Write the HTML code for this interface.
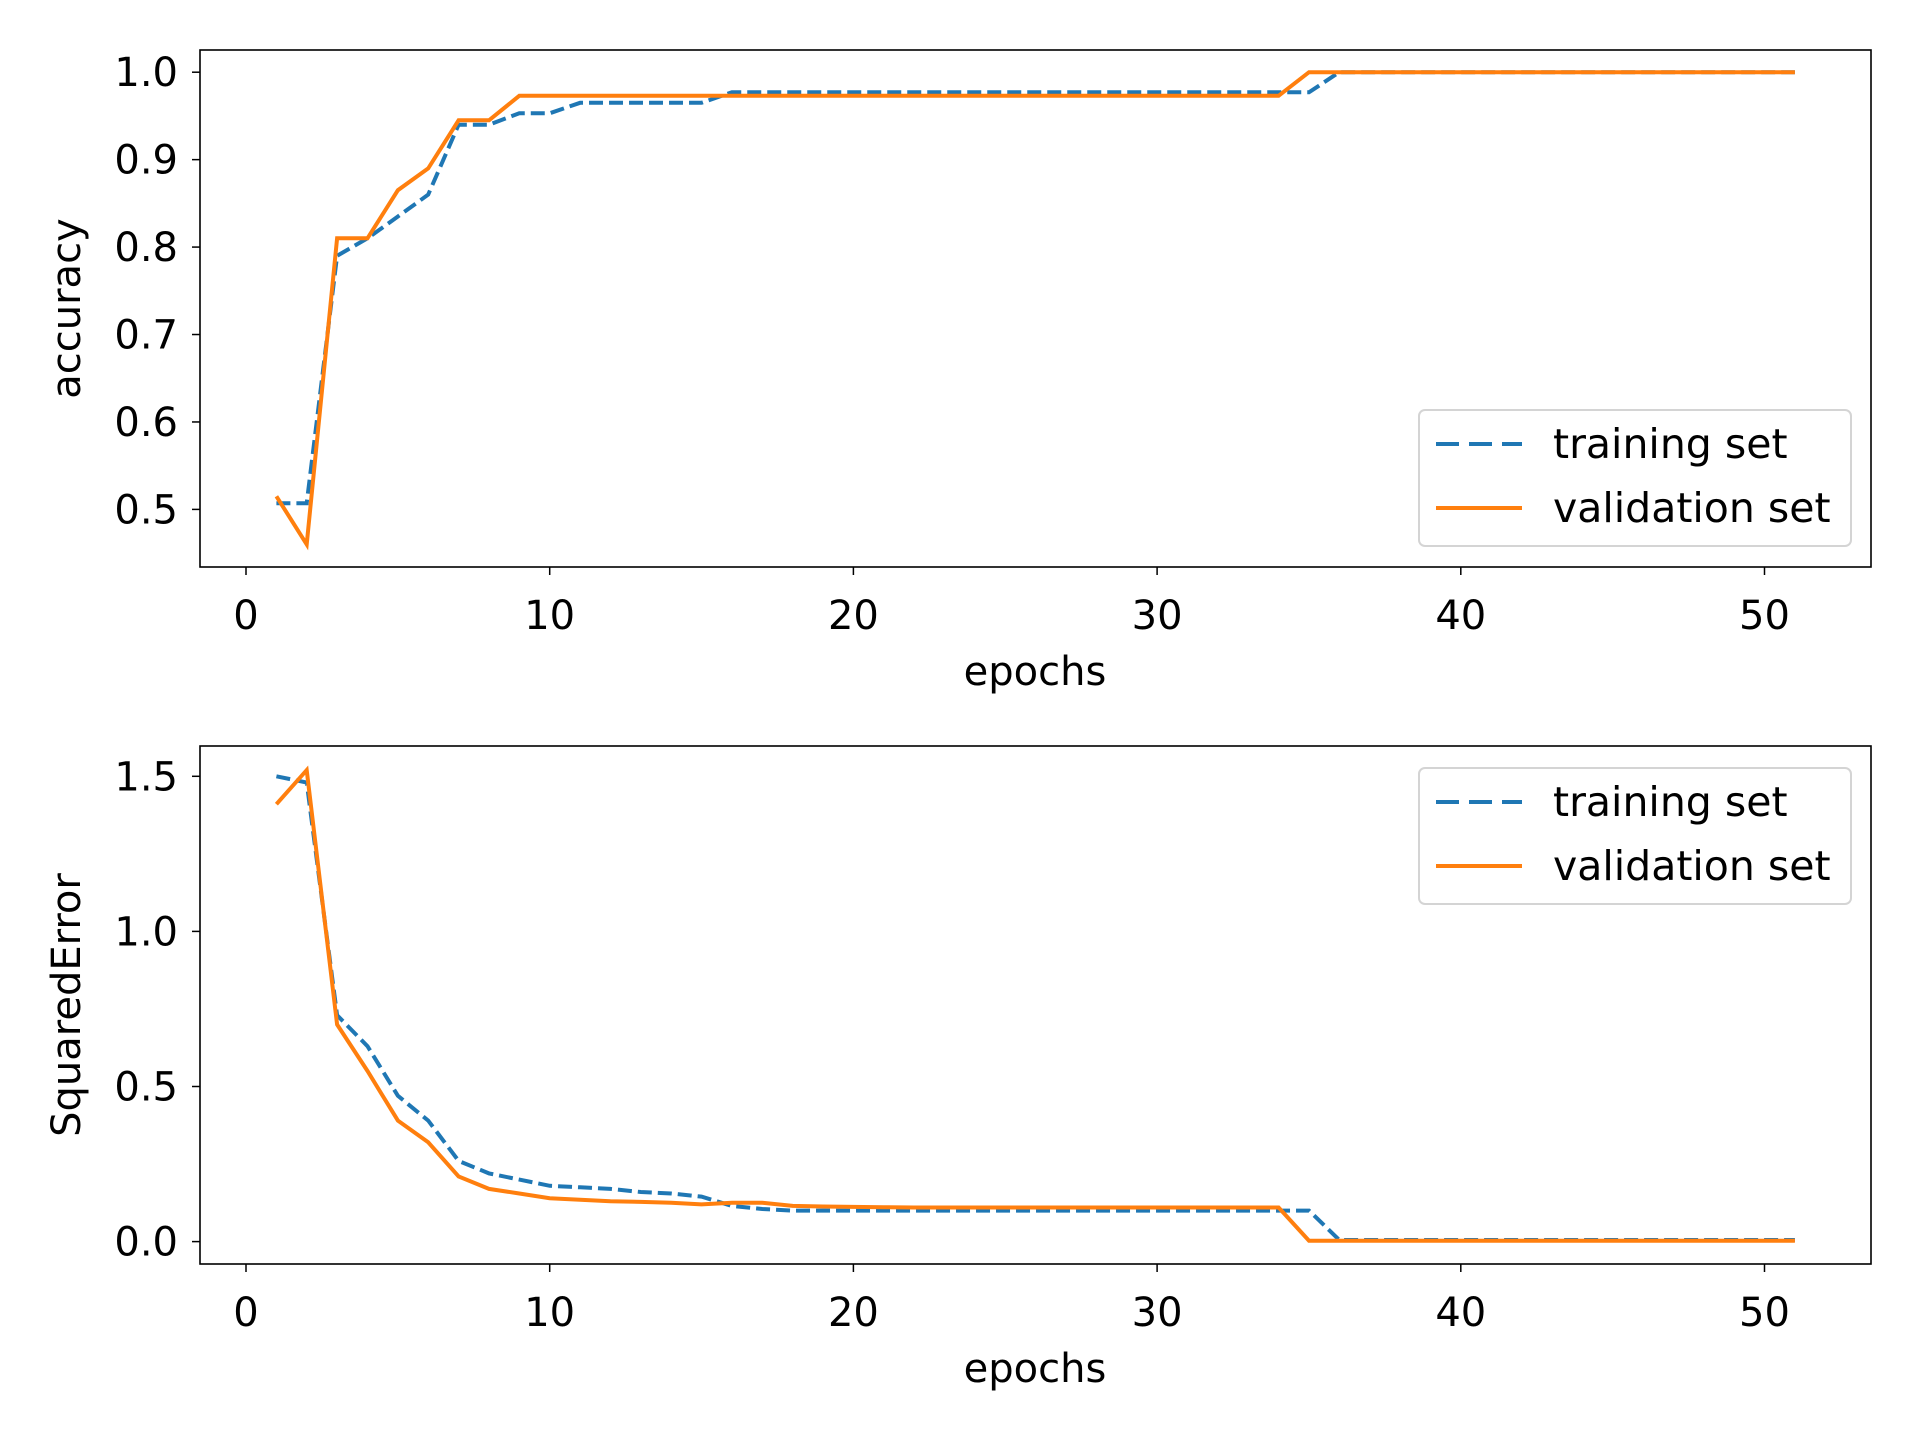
<!DOCTYPE html>
<html><head><meta charset="utf-8"><style>
body{margin:0;background:#fff}
svg text{font-family:"DejaVu Sans","Liberation Sans",sans-serif;fill:#000}
</style></head><body>
<svg id="c" width="1920" height="1440" viewBox="0 0 1920 1440" xmlns="http://www.w3.org/2000/svg"></svg>
<script>
const epochs=[];for(let i=1;i<=51;i++)epochs.push(i);
const accTrain=[0.507,0.507,0.79,0.81,0.835,0.86,0.94,0.94,0.953,0.953,0.965,0.965,0.965,0.965,0.965,0.977,0.977,0.977,0.977,0.977,0.977,0.977,0.977,0.977,0.977,0.977,0.977,0.977,0.977,0.977,0.977,0.977,0.977,0.977,0.977,1,1,1,1,1,1,1,1,1,1,1,1,1,1,1,1];
const accVal=[0.515,0.46,0.81,0.81,0.865,0.89,0.945,0.945,0.973,0.973,0.973,0.973,0.973,0.973,0.973,0.973,0.973,0.973,0.973,0.973,0.973,0.973,0.973,0.973,0.973,0.973,0.973,0.973,0.973,0.973,0.973,0.973,0.973,0.973,1,1,1,1,1,1,1,1,1,1,1,1,1,1,1,1,1];
const errTrain=[1.5,1.48,0.73,0.63,0.47,0.39,0.26,0.22,0.2,0.18,0.175,0.17,0.16,0.155,0.145,0.115,0.105,0.1,0.1,0.1,0.1,0.1,0.1,0.1,0.1,0.1,0.1,0.1,0.1,0.1,0.1,0.1,0.1,0.1,0.1,0.005,0.005,0.005,0.005,0.005,0.005,0.005,0.005,0.005,0.005,0.005,0.005,0.005,0.005,0.005,0.005];
const errVal=[1.41,1.52,0.70,0.55,0.39,0.32,0.21,0.17,0.155,0.14,0.135,0.13,0.128,0.125,0.12,0.125,0.125,0.115,0.113,0.112,0.111,0.11,0.11,0.11,0.11,0.11,0.11,0.11,0.11,0.11,0.11,0.11,0.11,0.11,0.003,0.003,0.003,0.003,0.003,0.003,0.003,0.003,0.003,0.003,0.003,0.003,0.003,0.003,0.003,0.003,0.003];
const xTicks=[0,10,20,30,40,50];
const accTicks=[0.5,0.6,0.7,0.8,0.9,1.0];
const errTicks=[0.0,0.5,1.0,1.5];
const svg=document.getElementById('c');const NS='http://www.w3.org/2000/svg';
function el(t,a,p){const e=document.createElementNS(NS,t);for(const k in a)e.setAttribute(k,a[k]);(p||svg).appendChild(e);return e;}
const X=v=>246+(v)*(1764.5-246)/50;
function panel(pre,top,bot,ya,yb,va,vb,ticks,ylab,tr,vl,legY){
  const Y=v=>ya+(v-va)*(yb-ya)/(vb-va);
  const g=el('g',{});
  xTicks.forEach(t=>{el('line',{x1:X(t),x2:X(t),y1:bot,y2:bot+8,stroke:'#000','stroke-width':1.5},g);
    const tx=el('text',{x:X(t),y:bot+62,'text-anchor':'middle','font-size':40},g);tx.textContent=t;});
  ticks.forEach(t=>{el('line',{x1:200,x2:192,y1:Y(t),y2:Y(t),stroke:'#000','stroke-width':1.5},g);
    const tx=el('text',{x:178,y:Y(t)+14,'text-anchor':'end','font-size':40},g);tx.textContent=t.toFixed(1);});
  const xl=el('text',{x:1035,y:bot+118,'text-anchor':'middle','font-size':40},g);xl.textContent='epochs';
  const cy=(top+bot)/2;const yl=el('text',{x:0,y:0,'text-anchor':'middle','font-size':40,transform:`translate(80,${cy}) rotate(-90)`},g);yl.textContent=ylab;
  const pts=a=>a.map((v,i)=>X(epochs[i]).toFixed(1)+','+Y(v).toFixed(1)).join(' ');
  const l1=el('polyline',{points:pts(tr),fill:'none',stroke:'#1f77b4','stroke-width':4,'stroke-dasharray':'14,6'},g);
  const l2=el('polyline',{points:pts(vl),fill:'none',stroke:'#ff7f0e','stroke-width':4},g);
  el('rect',{x:200,y:top,width:1671,height:bot-top,fill:'none',stroke:'#000','stroke-width':1.6},g);
  const lg=el('g',{},g);
  el('rect',{x:1419,y:legY,width:432,height:136,rx:6,fill:'#fff','fill-opacity':0.8,stroke:'#d4d4d4','stroke-width':2},lg);
  el('line',{x1:1436,x2:1522,y1:legY+34,y2:legY+34,stroke:'#1f77b4','stroke-width':4,'stroke-dasharray':'23,10'},lg);
  el('line',{x1:1436,x2:1522,y1:legY+98,y2:legY+98,stroke:'#ff7f0e','stroke-width':4},lg);
  const a=el('text',{x:1553,y:legY+48,'font-size':41},lg);a.textContent='training set';
  const b=el('text',{x:1553,y:legY+112,'font-size':41},lg);b.textContent='validation set';
}
panel('accuracy',50,567,509.4,72.2,0.5,1.0,accTicks,'accuracy',accTrain,accVal,410);
panel('squared-error',746,1264,1241.6,776.3,0,1.5,errTicks,'SquaredError',errTrain,errVal,768);
</script>
</body></html>
